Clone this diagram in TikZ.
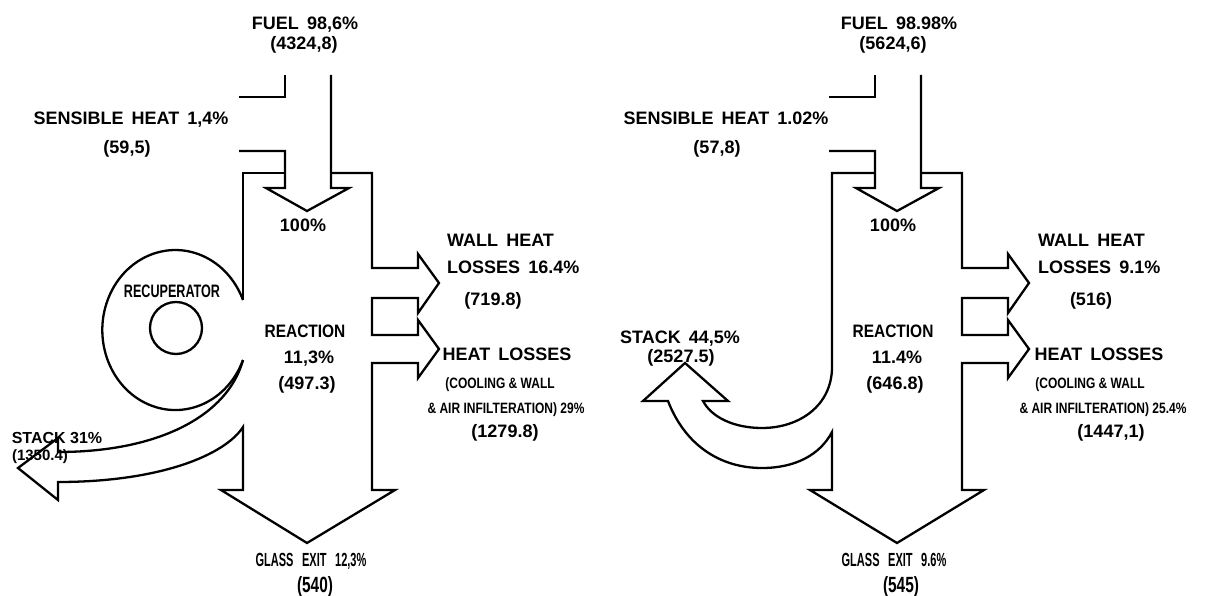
\documentclass[tikz,border=0pt]{standalone}
\usepackage{fontspec}
\setmainfont{Liberation Sans}
\newfontfamily\condA{Liberation Sans}[FakeStretch=0.8]
\newfontfamily\condB{Liberation Sans}[FakeStretch=0.7]
\newfontfamily\condC{Liberation Sans}[FakeStretch=0.58]
\newfontfamily\condR{Liberation Sans}[FakeStretch=0.86]
\newcommand{\gp}{\hspace{0.45em}}
\begin{document}
\begin{tikzpicture}[x=1pt,y=-1pt,
  flow/.style={line width=2.3pt,line join=miter,line cap=butt},
  lbl/.style={inner sep=0pt,anchor=base,font=\bfseries\fontsize{18}{18}\selectfont},
  lbll/.style={inner sep=0pt,anchor=base west,font=\bfseries\fontsize{18}{18}\selectfont},
  small/.style={inner sep=0pt,anchor=base,font=\condA\bfseries\fontsize{15}{15}\selectfont},
  glass/.style={inner sep=0pt,anchor=base,font=\condC\bfseries\fontsize{19}{19}\selectfont},
  glassv/.style={inner sep=0pt,anchor=base,font=\condB\bfseries\fontsize{22}{22}\selectfont},
  recup/.style={inner sep=0pt,anchor=base,font=\condB\bfseries\fontsize{18}{18}\selectfont},
  react/.style={inner sep=0pt,anchor=base,font=\condR\bfseries\fontsize{18}{18}\selectfont}]
\useasboundingbox (0,0) rectangle (1207,596);
\fill[white] (0,0) rectangle (1207,596);

% ===== LEFT DIAGRAM =====
\draw[flow] (239,97) -- (285,97) -- (285,75);
\draw[flow] (239,151) -- (285,151) -- (285,188) -- (266,188) -- (307,211) -- (349,188) -- (331,188) -- (331,75);
\draw[flow] (285,173) -- (243,173) -- (243,300);
\draw[flow] (243,360) arc[start angle=22,end angle=338,x radius=73,y radius=80];
\draw[flow] (176,328) circle[radius=26];
\draw[flow] (243,360) .. controls (228,415) and (160,452) .. (58,452) -- (58,438) -- (18,468) -- (58,500) -- (58,482)
  .. controls (160,482) and (225,455) .. (243,427) -- (243,490) -- (221,490) -- (307,543) -- (395,490) -- (372,490)
  -- (372,363) -- (418,363) -- (418,378) -- (439,349) -- (418,320) -- (418,335) -- (372,335)
  -- (372,298) -- (418,298) -- (418,313) -- (439,283) -- (418,254) -- (418,268) -- (372,268)
  -- (372,173) -- (331,173);

\node[lbl] (fuelL) at (305,30) {FUEL\gp98,6\%};
\node[lbl] (fuelLv) at (304,50) {(4324,8)};
\node[lbl] (sensL) at (131,125) {SENSIBLE\gp HEAT\gp 1,4\%};
\node[lbl] (sensLv) at (127,154) {(59,5)};
\node[lbl] (hundL) at (303,231) {100\%};
\node[recup] (recL) at (172,297) {RECUPERATOR};
\node[react] (reactL) at (305,337) {REACTION};
\node[lbl] (reactLp) at (309,363) {11,3\%};
\node[lbl] (reactLv) at (307,389) {(497.3)};
\node[lbll] (wallL1) at (447,247) {WALL\gp HEAT};
\node[lbll] (wallL2) at (447,273) {LOSSES\gp 16.4\%};
\node[lbl] (wallLv) at (493,305) {(719.8)};
\node[lbl] (hlL1) at (507,360) {HEAT\gp LOSSES};
\node[small] (hlL2) at (500,388) {(COOLING \& WALL};
\node[small] (hlL3) at (506,413) {\& AIR INFILTERATION) 29\%};
\node[lbl] (hlLv) at (505,437) {(1279.8)};
\node[glass] (glL) at (311,566) {GLASS\gp EXIT\gp 12,3\%};
\node[glassv] (glLv) at (315,592) {(540)};
\node[lbl,font=\bfseries\fontsize{16}{16}\selectfont] (stL) at (57,443) {STACK 31\%};
\node[lbl,font=\bfseries\fontsize{15}{15}\selectfont] (stLv) at (40,460) {(1350.4)};

% ===== RIGHT DIAGRAM =====
\draw[flow] (829,97) -- (875,97) -- (875,75);
\draw[flow] (829,151) -- (875,151) -- (875,188) -- (856,188) -- (897,211) -- (939,188) -- (921,188) -- (921,75);
\draw[flow] (875,173) -- (832,173) -- (832,367)
  .. controls (832,405) and (800,428) .. (762,428) .. controls (735,428) and (712,418) .. (703,401)
  -- (728,401) -- (685,363) -- (643,401) -- (668,401)
  .. controls (685,445) and (720,468) .. (762,468) .. controls (795,468) and (820,455) .. (832,432)
  -- (832,490) -- (810,490) -- (897,543) -- (984,490) -- (962,490)
  -- (962,363) -- (1008,363) -- (1008,378) -- (1029,349) -- (1008,320) -- (1008,335) -- (962,335)
  -- (962,298) -- (1008,298) -- (1008,313) -- (1029,283) -- (1008,254) -- (1008,268) -- (962,268)
  -- (962,173) -- (921,173);

\node[lbl] (fuelR) at (899,30) {FUEL\gp 98.98\%};
\node[lbl] (fuelRv) at (893,50) {(5624,6)};
\node[lbl] (sensR) at (726,125) {SENSIBLE\gp HEAT\gp 1.02\%};
\node[lbl] (sensRv) at (717,154) {(57,8)};
\node[lbl] (hundR) at (893,231) {100\%};
\node[lbl] (stR) at (680,343) {STACK\gp 44,5\%};
\node[lbl] (stRv) at (681,362) {(2527.5)};
\node[react] (reactR) at (893,337) {REACTION};
\node[lbl] (reactRp) at (897,363) {11.4\%};
\node[lbl] (reactRv) at (895,389) {(646.8)};
\node[lbll] (wallR1) at (1038,247) {WALL\gp HEAT};
\node[lbll] (wallR2) at (1038,273) {LOSSES\gp 9.1\%};
\node[lbl] (wallRv) at (1091,305) {(516)};
\node[lbl] (hlR1) at (1099,360) {HEAT\gp LOSSES};
\node[small] (hlR2) at (1090,388) {(COOLING \& WALL};
\node[small] (hlR3) at (1103,413) {\& AIR INFILTERATION) 25.4\%};
\node[lbl] (hlRv) at (1111,437) {(1447,1)};
\node[glass] (glR) at (894,566) {GLASS\gp EXIT\gp 9.6\%};
\node[glassv] (glRv) at (901,592) {(545)};
\end{tikzpicture}
\end{document}
